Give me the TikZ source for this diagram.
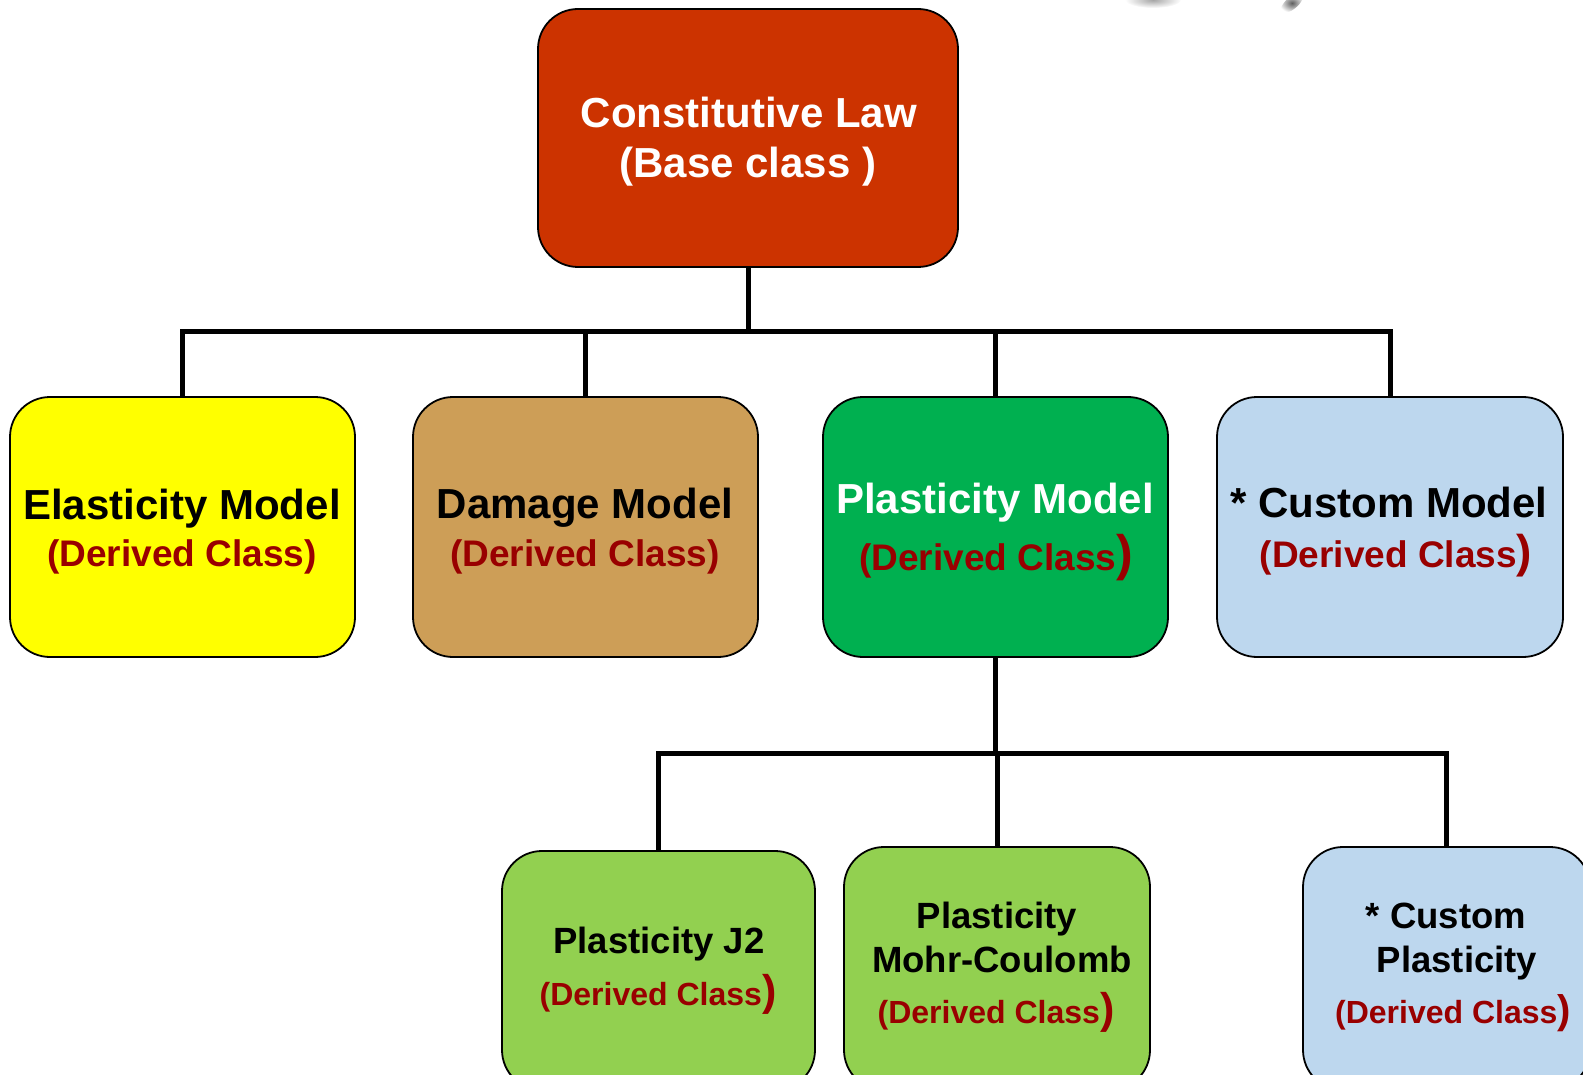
\documentclass[tikz,border=0pt]{standalone}
\usepackage{fontspec}
\setmainfont{Liberation Sans}
\definecolor{baseRed}{HTML}{CC3300}
\definecolor{elastY}{HTML}{FFFF00}
\definecolor{damTan}{HTML}{CD9E57}
\definecolor{plastG}{HTML}{00B050}
\definecolor{custB}{HTML}{BDD7EE}
\definecolor{subG}{HTML}{92D050}
\definecolor{derRed}{HTML}{990000}
\newcommand{\fsz}[1]{\fontsize{#1}{#1}\selectfont}
\begin{document}
\begin{tikzpicture}[x=1pt,y=-1pt,
  cbox/.style={draw=black,line width=1.8pt,rounded corners=40pt,rectangle,inner sep=0pt},
  wire/.style={draw=black,line width=5pt},
  bigT/.style={anchor=base,inner sep=0pt,font=\bfseries\fsz{42}},
  subT/.style={anchor=base,inner sep=0pt,font=\bfseries\fsz{36.5}},
  derT/.style={anchor=base,inner sep=0pt,text=derRed,font=\bfseries\fsz{37}},
  derS/.style={anchor=base,inner sep=0pt,text=derRed,font=\bfseries\fsz{32}}]
\useasboundingbox (0,0) rectangle (1583,1075);
\clip (0,0) rectangle (1583,1075);
% faint grey blobs at the top edge
\shade[inner color=gray!70,outer color=white] (1153,0) ellipse [x radius=28pt,y radius=8pt];
\shade[inner color=gray!75!black,outer color=white,rotate around={40:(1292,3)}] (1292,3) ellipse [x radius=14pt,y radius=6pt];
% boxes
\node[cbox,fill=baseRed,minimum width=420pt,minimum height=258pt] (base) at (748,138) {};
\node[cbox,fill=elastY,minimum width=345pt,minimum height=260pt] (elast) at (182.5,527) {};
\node[cbox,fill=damTan,minimum width=345pt,minimum height=260pt] (dam) at (585.5,527) {};
\node[cbox,fill=plastG,minimum width=345pt,minimum height=260pt] (plast) at (995.5,527) {};
\node[cbox,fill=custB,minimum width=346pt,minimum height=260pt] (cust) at (1390,527) {};
\node[cbox,fill=subG,minimum width=313pt,minimum height=239pt] (jtwo) at (658.5,970.5) {};
\node[cbox,fill=subG,minimum width=306pt,minimum height=243pt] (mohr) at (997,968.5) {};
\node[cbox,fill=custB,minimum width=287pt,minimum height=243pt] (cplast) at (1446.5,968.5) {};
% connectors
\coordinate (busA) at (748,332);
\coordinate (busB) at (995.5,753);
\draw[wire] (base.south) -- (busA);
\draw[wire] (elast.north) |- (busA) -| (cust.north);
\draw[wire] (dam.north) -- (dam.north |- busA);
\draw[wire] (plast.north) -- (plast.north |- busA);
\draw[wire] (plast.south) -- (busB);
\draw[wire] (jtwo.north) |- (busB) -| (cplast.north);
\draw[wire] (mohr.north) -- (mohr.north |- busB);
% texts
\node[bigT,text=white] (baseA) at (749,128) {Constitutive Law};
\node[bigT,text=white] (baseB) at (748,178) {(Base class )};
\node[bigT] (elA) at (182,519) {Elasticity Model};
\node[derT] (elB) at (182,566) {(Derived Class)};
\node[bigT] (daA) at (585,518) {Damage Model};
\node[derT] (daB) at (585,566) {(Derived Class)};
\node[bigT,text=white] (plA) at (995,513) {Plasticity Model};
\node[derT] (plB) at (996,570) {(Derived Class{\fsz{50})}};
\node[bigT] (cuA) at (1389,517) {* Custom Model};
\node[derT] (cuB) at (1396,567) {(Derived Class{\fsz{46})}};
\node[subT] (jA) at (659,953) {Plasticity J2};
\node[derS] (jB) at (658,1005) {(Derived Class{\fsz{43})}};
\node[subT] (moA) at (997,928) {Plasticity};
\node[subT] (moB) at (1002,972) {Mohr-Coulomb};
\node[derS] (moC) at (996,1023) {(Derived Class{\fsz{43})}};
\node[subT] (cpA) at (1446,928) {* Custom};
\node[subT] (cpB) at (1457,972) {Plasticity};
\node[derS] (cpC) at (1453,1023) {(Derived Class{\fsz{40})}};
\end{tikzpicture}
\end{document}
